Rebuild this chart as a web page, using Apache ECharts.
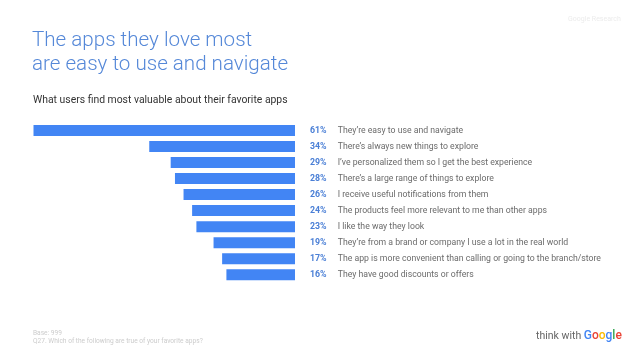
<!DOCTYPE html>
<html><head><meta charset="utf-8">
<script src="https://cdn.jsdelivr.net/npm/echarts@6/dist/echarts.min.js"></script>
<style>html,body{margin:0;padding:0;background:#fff}#c{width:640px;height:360px}</style>
</head><body><div id="c"></div>
<script>
const categories = [
  "They’re easy to use and navigate",
  "There’s always new things to explore",
  "I’ve personalized them so I get the best experience",
  "There’s a large range of things to explore",
  "I receive useful notifications from them",
  "The products feel more relevant to me than other apps",
  "I like the way they look",
  "They’re from a brand or company I use a lot in the real world",
  "The app is more convenient than calling or going to the branch/store",
  "They have good discounts or offers"
];
const values = [61, 34, 29, 28, 26, 24, 23, 19, 17, 16];
const titleLines = ["The apps they love most", "are easy to use and navigate"];
const subtitle = "What users find most valuable about their favorite apps";
const footnotes = ["Base: 999", "Q27. Which of the following are true of your favorite apps?"];

const chart = echarts.init(document.getElementById('c'));
chart.setOption({
  backgroundColor: '#fff',
  animation: false,
  grid: { left: 33.5, right: 345, top: 122.5, bottom: 77.3, containLabel: false },
  xAxis: { type: 'value', inverse: true, min: 0, max: 61, show: false },
  yAxis: {
    type: 'category', data: categories, inverse: true, position: 'right',
    axisLine: { show: false }, axisTick: { show: false }, splitLine: { show: false },
    axisLabel: {
      margin: 15, align: 'left',
      formatter: (v, i) => '{p|' + values[i] + '%}{t|' + v + '}',
      rich: {
        p: { fontFamily: 'Roboto', fontWeight: 'bold', fontSize: 8.8, color: '#4a7fd6', width: 27.7 },
        t: { fontFamily: 'Roboto', fontSize: 8.7, color: '#6b6b6b' }
      }
    }
  },
  series: [{
    type: 'bar', data: values, barWidth: 11,
    itemStyle: { color: '#4285f4' }, silent: true
  }],
  graphic: [
    { type: 'text', left: 32, top: 29, style: { text: titleLines.join('\n'), fontFamily: 'Roboto', fontWeight: 300, fontSize: 20.6, lineHeight: 24, fill: '#5588d8' } },
    { type: 'text', left: 33, top: 95, style: { text: subtitle, fontFamily: 'Roboto', fontSize: 10.4, fill: '#333' } },
    { type: 'text', left: 568, top: 16, style: { text: 'Google Research', fontFamily: 'Roboto', fontSize: 7, fill: '#ececec' } },
    { type: 'text', left: 33, top: 329, style: { text: footnotes.join('\n'), fontFamily: 'Roboto', fontSize: 6.6, lineHeight: 8.5, fill: '#cccccc' } },
    { type: 'text', left: 536, top: 330, style: {
      text: '{a|think with }{b|G}{r|o}{y|o}{b|g}{g|l}{r|e}',
      rich: {
        a: { fontFamily: 'Roboto', fontSize: 10.5, fill: '#666' },
        b: { fontFamily: 'Roboto', fontWeight: 500, fontSize: 12, fill: '#4285f4' },
        r: { fontFamily: 'Roboto', fontWeight: 500, fontSize: 12, fill: '#ea4335' },
        y: { fontFamily: 'Roboto', fontWeight: 500, fontSize: 12, fill: '#fbbc05' },
        g: { fontFamily: 'Roboto', fontWeight: 500, fontSize: 12, fill: '#34a853' }
      }
    } }
  ]
});
</script></body></html>
